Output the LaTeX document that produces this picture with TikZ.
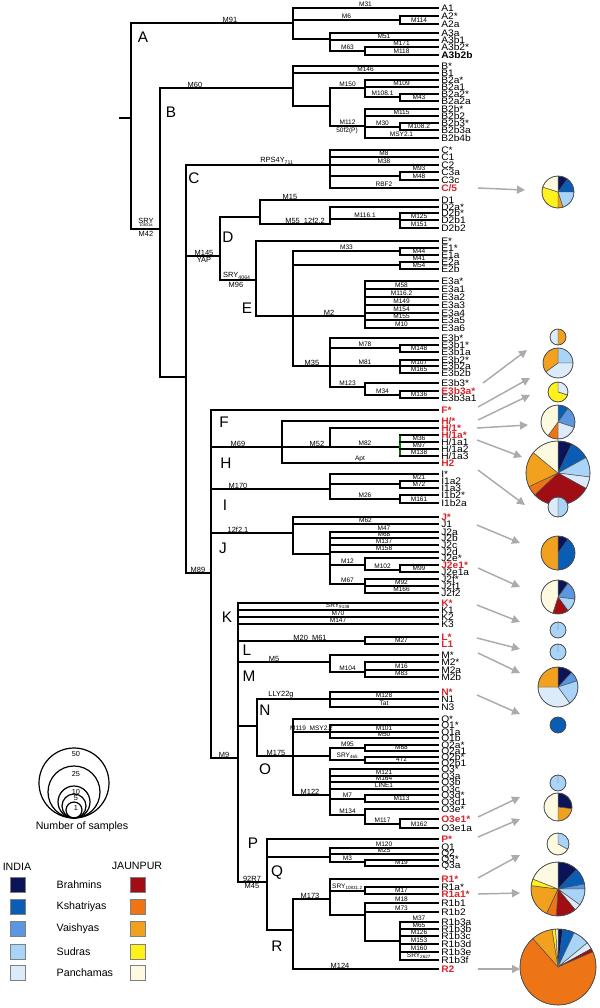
\documentclass[tikz,border=0pt]{standalone}
\usepackage{fontspec}
\setmainfont{Liberation Sans}
\newfontfamily\tipfont[FakeStretch=1.08]{Liberation Sans}
\usetikzlibrary{arrows.meta}
\definecolor{inB}{HTML}{0B1457}
\definecolor{inK}{HTML}{0A5DB5}
\definecolor{inV}{HTML}{5B97E0}
\definecolor{inS}{HTML}{A9D3F7}
\definecolor{inP}{HTML}{DCEBF9}
\definecolor{jaB}{HTML}{A00D14}
\definecolor{jaK}{HTML}{EE7516}
\definecolor{jaV}{HTML}{F2A11F}
\definecolor{jaS}{HTML}{FFF21C}
\definecolor{jaP}{HTML}{FEFAE0}
\definecolor{redl}{HTML}{D9242B}
\definecolor{arr}{HTML}{ABABAB}
\newcommand{\Vl}[4][]{\draw[tr,#1] (#2,#3) -- (#2,#4);}
\newcommand{\Sg}[3]{\draw[tr] (#1,#3) -- (#2,#3);}
\newcommand{\Sgl}[4]{\draw[tr] (#1,#3) -- (#2,#3) node[mut,pos=0.5] {#4};}
\newcommand{\Sglx}[5]{\draw[tr] (#1,#3) -- (#2,#3); \node[mutM] at (#4,#3) {#5};}
\newcommand{\mypie}[4]{%
  \gdef\pa{-90}%
  \foreach \cc/\ff in {#4}{%
    \pgfmathsetmacro\pb{\pa+360*\ff}%
    \filldraw[fill=\cc,draw=black!70,line width=0.35pt] (#1,#2) -- ++(\pa:#3) arc[start angle=\pa,end angle=\pb,radius=#3] -- cycle;%
    \global\let\pa\pb
  }%
  \draw[black!70,line width=0.45pt] (#1,#2) circle[radius=#3];%
}
\begin{document}
\begin{tikzpicture}[x=0.75pt,y=-0.75pt,
  tr/.style={line width=1.05pt,line cap=rect},
  mut/.style={anchor=south,inner sep=0.3pt,font=\fontsize{4.9}{4.9}\selectfont},
  mutM/.style={anchor=south,inner sep=0.4pt,font=\fontsize{5.6}{5.6}\selectfont},
  mutb/.style={anchor=north,inner sep=0.4pt,font=\fontsize{5.6}{5.6}\selectfont},
  tipl/.style={anchor=west,inner sep=0pt,font=\tipfont\fontsize{7.1}{7.1}\selectfont},
  redt/.style={tipl,text=redl,font=\tipfont\fontsize{7.1}{7.1}\bfseries\selectfont},
  clade/.style={font=\fontsize{11.5}{12}\selectfont},
  garr/.style={draw=arr,line width=1.1pt,-{Triangle[length=6pt,width=6pt]}},
  leg/.style={font=\fontsize{8}{9}\selectfont}]
\useasboundingbox (0,0) rectangle (600,1008);
% ---------------- backbone ----------------
\Sg{120}{131}{118}
\Vl{131}{23}{229}
\Sglx{131}{293}{23}{230}{M91}
\node[clade] (lA) at (143,37) {A};
\Sg{131}{160}{229}
\node[mutM] (sry1) at (146,224) {SRY};
\node[font=\fontsize{3}{3}\selectfont,inner sep=0pt] (sry1b) at (146,225.5) {10831a};
\node[mutb] (m42) at (146,230) {M42};
\Vl{160}{88}{377}
\Sglx{160}{293}{88}{195}{M60}
\node[clade] (lB) at (171,112) {B};
\Sg{160}{186}{377}
\Vl{186}{165}{573}
\Sglx{186}{330}{165}{277}{RPS4Y\textsubscript{711}}
\node[clade] (lC) at (194,178) {C};
\Sg{186}{220}{256}
\node[mutM] (m145) at (204,256) {M145};
\node[mutb] (yap) at (204,257) {YAP};
\Vl{220}{217}{280}
\Sg{220}{260}{217}
\node[clade] (lD) at (228,237) {D};
\Sg{220}{256}{280}
\node[mutM] (sry4064) at (237,280) {SRY\textsubscript{4064}};
\node[mutb] (m96) at (236,281) {M96};
% ---------------- A ----------------
\Vl{293}{8}{39}
\Sgl{293}{438}{8}{M31}
\Sgl{293}{400}{20}{M6}
\Vl{400}{16}{24}
\Sg{400}{438}{16}
\Sgl{400}{438}{24}{M114}
\Sg{293}{330}{39}
\Vl{330}{33}{51}
\Sg{330}{438}{33}
\Sgl{330}{438}{40}{M51}
\Sgl{330}{365}{51}{M63}
\Vl{365}{47}{55}
\Sgl{365}{438}{47}{M171}
\Sgl{365}{438}{55}{M118}
% ---------------- B ----------------
\Vl{293}{66}{106}
\Sg{293}{438}{66}
\Sgl{293}{438}{73}{M146}
\Sg{293}{330}{106}
\Vl{330}{88}{126}
\Sgl{330}{365}{88}{M150}
\Vl{365}{80}{97}
\Sg{365}{438}{80}
\Sgl{365}{438}{87}{M109}
\Sgl{365}{400}{97}{M108.1}
\Vl{400}{94}{101}
\Sg{400}{438}{94}
\Sgl{400}{438}{101}{M43}
\Sgl{330}{365}{126}{M112}
\node[mutb,font=\fontsize{4.9}{4.9}\selectfont] (p50f2) at (347,127) {50f2(P)};
\Vl{365}{109}{138}
\Sg{365}{438}{109}
\Sgl{365}{438}{116}{M115}
\Sgl{365}{400}{127}{M30}
\Vl{400}{123}{130}
\Sg{400}{438}{123}
\Sgl{400}{438}{130}{M108.2}
\Sgl{365}{438}{138}{MSY2.1}
% ---------------- C ----------------
\Vl{330}{150}{188}
\Sg{330}{438}{150}
\Sgl{330}{438}{157}{M8}
\Sgl{330}{438}{165}{M38}
\Sg{330}{400}{176}
\Vl{400}{172}{180}
\Sgl{400}{438}{172}{M93}
\Sgl{400}{438}{180}{M48}
\Sgl{330}{438}{188}{RBF2}
% ---------------- D ----------------
\Vl{260}{200}{224}
\Sglx{260}{438}{200}{290}{M15}
\Sglx{260}{330}{224}{305}{M55\ \ 12f2.2}
\Vl{330}{207}{224}
\Sg{330}{438}{207}
\Sgl{330}{400}{219}{M116.1}
\Vl{400}{213}{228}
\Sg{400}{438}{213}
\Sgl{400}{438}{220}{M125}
\Sgl{400}{438}{228}{M151}
% ---------------- E ----------------
\Vl{256}{241}{316}
\Sg{256}{438}{241}
\node[clade] (lE) at (247,308) {E};
\Sg{256}{293}{316}
\Vl{293}{251}{366}
\Sgl{293}{400}{251}{M33}
\Vl{400}{248}{255}
\Sg{400}{438}{248}
\Sgl{400}{438}{255}{M44}
\Sg{293}{400}{265}
\Vl{400}{262}{269}
\Sgl{400}{438}{262}{M41}
\Sgl{400}{438}{269}{M54}
\Sglx{293}{365}{316}{329}{M2}
\Vl{365}{281}{328}
\Sg{365}{438}{281}
\Sgl{365}{438}{289}{M58}
\Sgl{365}{438}{297}{M116.2}
\Sgl{365}{438}{305}{M149}
\Sgl{365}{438}{313}{M154}
\Sgl{365}{438}{320}{M155}
\Sgl{365}{438}{328}{M10}
\Sglx{293}{330}{366}{312}{M35}
\Vl{330}{338}{387}
\Sg{330}{438}{338}
\Sgl{330}{400}{348}{M78}
\Vl{400}{345}{352}
\Sg{400}{438}{345}
\Sgl{400}{438}{352}{M148}
\Sgl{330}{400}{366}{M81}
\Vl{400}{360}{373}
\Sg{400}{438}{360}
\Sgl{400}{438}{366}{M107}
\Sgl{400}{438}{373}{M165}
\Sgl{330}{365}{387}{M123}
\Vl{365}{383}{395}
\Sg{365}{438}{383}
\Sgl{365}{400}{395}{M34}
\Vl{400}{391}{398}
\Sg{400}{438}{391}
\Sgl{400}{438}{398}{M136}
% ---------------- F..J ----------------
\Sg{186}{211}{573}
\node[mutM] (m89) at (198,573) {M89};
\Vl{211}{410}{758}
\Sg{211}{438}{410}
\node[clade] (lF) at (224,422) {F};
\Sglx{211}{282}{447}{238}{M69}
\node[clade] (lH) at (226,463) {H};
\Vl{282}{421}{463}
\Sg{282}{438}{421}
\Sgl{282}{438}{463}{Apt}
\Sglx{282}{330}{447}{317}{M52}
\Vl{330}{428}{447}
\Sg{330}{438}{428}
\Sgl{330}{400}{447}{M82}
\Vl[draw=green!45!black]{400}{435}{456}
\Sg{400}{438}{435}
\Sgl{400}{438}{442}{M36}
\Sgl{400}{438}{449}{M97}
\Sgl{400}{438}{456}{M138}
\Sglx{211}{330}{489}{238}{M170}
\node[clade] (lI) at (225,505) {I};
\Vl{330}{474}{499}
\Sg{330}{438}{474}
\Sg{330}{400}{484}
\Vl{400}{481}{488}
\Sgl{400}{438}{481}{M21}
\Sgl{400}{438}{488}{M72}
\Sgl{330}{400}{499}{M26}
\Vl{400}{495}{503}
\Sg{400}{438}{495}
\Sgl{400}{438}{503}{M161}
\Sglx{211}{293}{533}{238}{12f2.1}
\node[clade] (lJ) at (223,548) {J};
\Vl{293}{517}{554}
\Sg{293}{438}{517}
\Sgl{293}{438}{524}{M62}
\Sg{293}{330}{554}
\Vl{330}{532}{584}
\Sgl{330}{438}{532}{M47}
\Sgl{330}{438}{538}{M68}
\Sgl{330}{438}{545}{M137}
\Sgl{330}{438}{552}{M158}
\Sgl{330}{365}{565}{M12}
\Vl{365}{558}{570}
\Sg{365}{438}{558}
\Sgl{365}{400}{570}{M102}
\Vl{400}{565}{572}
\Sg{400}{438}{565}
\Sgl{400}{438}{572}{M99}
\Sgl{330}{365}{584}{M67}
\Vl{365}{579}{593}
\Sg{365}{438}{579}
\Sgl{365}{438}{586}{M92}
\Sgl{365}{438}{593}{M166}
% ---------------- K..R ----------------
\Sg{211}{238}{758}
\node[mutM] (m9) at (224,758) {M9};
\Vl{238}{603}{882}
\node[clade] (lK) at (227,617) {K};
\Sg{238}{438}{603}
\Sgl{238}{438}{610}{SRY\textsubscript{9138}}
\Sgl{238}{438}{617}{M70}
\Sgl{238}{438}{624}{M147}
\Sglx{238}{365}{641}{310}{M20\ \ M61}
\node[clade] (lL) at (247,650) {L};
\Vl{365}{637}{644}
\Sg{365}{438}{637}
\Sgl{365}{438}{644}{M27}
\Sglx{238}{330}{662}{274}{M5}
\node[clade] (lM) at (249,676) {M};
\Vl{330}{655}{672}
\Sg{330}{438}{655}
\Sgl{330}{365}{672}{M104}
\Vl{365}{662}{677}
\Sg{365}{438}{662}
\Sgl{365}{438}{670}{M16}
\Sgl{365}{438}{677}{M83}
\Sg{238}{257}{726}
\Vl{257}{699}{756}
\Sglx{257}{330}{699}{281}{LLY22g}
\node[clade] (lN) at (265,710) {N};
\Vl{330}{692}{707}
\Sg{330}{438}{692}
\Sgl{330}{438}{699}{M128}
\Sgl{330}{438}{707}{Tat}
\Sglx{257}{293}{756}{276}{M175}
\node[clade] (lO) at (265,769) {O};
\Vl{293}{719}{795}
\Sg{293}{438}{719}
\Sgl{293}{330}{732}{M119\ \ MSY2.2}
\Vl{330}{725}{738}
\Sg{330}{438}{725}
\Sgl{330}{438}{732}{M101}
\Sgl{330}{438}{738}{M50}
\Sg{293}{330}{756}
\Vl{330}{748}{760}
\Sgl{330}{365}{748}{M95}
\Vl{365}{745}{751}
\Sg{365}{438}{745}
\Sgl{365}{438}{751}{M88}
\Sgl{330}{365}{760}{SRY\textsubscript{465}}
\Vl{365}{757}{763}
\Sg{365}{438}{757}
\Sgl{365}{438}{763}{47z}
\Sglx{293}{330}{795}{310}{M122}
\Vl{330}{769}{815}
\Sg{330}{438}{769}
\Sgl{330}{438}{776}{M121}
\Sgl{330}{438}{782}{M164}
\Sgl{330}{438}{789}{LINE1}
\Sgl{330}{365}{799}{M7}
\Vl{365}{795}{802}
\Sg{365}{438}{795}
\Sgl{365}{438}{802}{M113}
\Sgl{330}{365}{815}{M134}
\Vl{365}{809}{824}
\Sg{365}{438}{809}
\Sgl{365}{400}{824}{M117}
\Vl{400}{819}{828}
\Sg{400}{438}{819}
\Sgl{400}{438}{828}{M162}
\Sg{238}{267}{882}
\node[mutM] (r7) at (252,882) {92R7};
\node[mutb] (m45) at (252,883) {M45};
\node[clade] (lP) at (253,843) {P};
\node[clade] (lQ) at (277,873) {Q};
\node[clade] (lR) at (277,946) {R};
\Vl{267}{839}{930}
\Sg{267}{438}{839}
\Sg{267}{330}{857}
\Vl{330}{848}{862}
\Sgl{330}{438}{848}{M120}
\Sgl{330}{438}{854}{M25}
\Sgl{330}{365}{862}{M3}
\Vl{365}{860}{866}
\Sg{365}{438}{860}
\Sgl{365}{438}{866}{M19}
\Sg{267}{293}{930}
\Vl{293}{899}{969}
\Sglx{293}{330}{899}{310}{M173}
\Vl{330}{879}{915}
\Sg{330}{438}{879}
\Sgl{330}{365}{891}{SRY\textsubscript{10831.2}}
\Vl{365}{887}{894}
\Sg{365}{438}{887}
\Sgl{365}{438}{894}{M17}
\Sg{330}{365}{915}
\Vl{365}{903}{941}
\Sgl{365}{438}{903}{M18}
\Sgl{365}{438}{912}{M73}
\Sg{365}{400}{941}
\Vl{400}{922}{960}
\Sgl{400}{438}{922}{M37}
\Sgl{400}{438}{929}{M65}
\Sgl{400}{438}{936}{M126}
\Sgl{400}{438}{944}{M153}
\Sgl{400}{438}{952}{M160}
\Sgl{400}{438}{960}{SRY\textsubscript{2627}}
\Sglx{293}{438}{969}{340}{M124}
% ---------------- tip labels ----------------
\foreach \yy/\tt [count=\i] in {8/A1,16/A2*,24/A2a,33/A3a,40/A3b1,47/A3b2*,
  66/B*,73/B1,80/B2a*,87/B2a1,94/B2a2*,101/B2a2a,109/B2b*,116/B2b2,123/B2b3*,130/B2b3a,138/B2b4b,
  150/C*,157/C1,165/C2,172/C3a,180/C3c,
  200/D1,207/D2a*,213/D2b*,220/D2b1,228/D2b2,
  241/E*,248/E1*,255/E1a,262/E2a,269/E2b,
  281/E3a*,289/E3a1,297/E3a2,305/E3a3,313/E3a4,320/E3a5,328/E3a6,
  338/E3b*,345/E3b1*,352/E3b1a,360/E3b2*,366/E3b2a,373/E3b2b,383/E3b3*,398/E3b3a1,
  442/{H/1a1},449/{H/1a2},456/{H/1a3},
  474/I*,481/I1a2,488/I1a3,495/I1b2*,503/I1b2a,
  524/J1,532/J2a,538/J2b,545/J2c,552/J2d,558/J2e*,572/J2e1a,579/J2f*,586/J2f1,593/J2f2,
  610/K1,617/K2,624/K3,
  655/M*,662/M2*,670/M2a,677/M2b,
  699/N1,707/N3,
  719/O*,725/O1*,732/O1a,738/O1b,745/O2a*,751/O2a1,757/O2b*,763/O2b1,769/O3*,776/O3a,782/O3b,789/O3c,795/O3d*,802/O3d1,809/O3e*,828/O3e1a,
  848/Q1,854/Q2,860/Q3*,866/Q3a,
  887/R1a*,903/R1b1,912/R1b2,922/R1b3a,929/R1b3b,936/R1b3c,944/R1b3d,952/R1b3e,960/R1b3f}
  {\node[tipl] (tip\i) at (441,\yy) {\tt};}
\node[tipl,font=\tipfont\fontsize{7.1}{7.1}\bfseries\selectfont] (tA3b2b) at (441,55) {A3b2b};
\node[redt] (tC5) at (441,188) {C/5};
\node[redt] (tE3b3a) at (441,391) {E3b3a*};
\node[redt] (tF) at (441,410) {F*};
\node[redt] (tH) at (441,421) {H/*};
\node[redt] (tH1) at (441,428) {H/1*};
\node[redt] (tH1a) at (441,435) {H/1a*};
\node[redt] (tH2) at (441,463) {H2};
\node[redt] (tJ) at (441,517) {J*};
\node[redt] (tJ2e1) at (441,565) {J2e1*};
\node[redt] (tK) at (441,603) {K*};
\node[redt] (tL) at (441,637) {L*};
\node[redt] (tL1) at (441,644) {L1};
\node[redt] (tN) at (441,692) {N*};
\node[redt] (tO3e1) at (441,819) {O3e1*};
\node[redt] (tP) at (441,839) {P*};
\node[redt] (tR1) at (441,879) {R1*};
\node[redt] (tR1a1) at (441,894) {R1a1*};
\node[redt] (tR2) at (441,969) {R2};
% ---------------- arrows ----------------
\foreach \ax/\ay/\bx/\by [count=\k] in {478/188/525/190, 483/383/527/350, 478/407/530/378, 478/420/530/395,
   477/428/528/425, 477/440/522/457, 478/470/525/505, 477/525/520/543, 478/568/520/587,
   477/605/520/622, 477/638/520/649, 478/653/520/673, 477/695/520/714, 478/817/520/797,
   478/837/520/819, 478/878/520/855, 478/894/520/893, 478/969/520/969}
  {\coordinate (ta\k) at (\ax,\ay); \coordinate (tb\k) at (\bx,\by); \draw[garr] (ta\k) -- (tb\k);}
% ---------------- pies ----------------
\mypie{558}{192}{16}{inB/0.1,inK/0.15,inS/0.2,jaV/0.05,jaS/0.3,jaP/0.2}
\mypie{558}{337}{8}{jaV/0.5,inP/0.5}
\mypie{558}{363}{15}{inS/0.25,inP/0.4,jaV/0.35}
\mypie{558}{392}{10}{inP/0.3,jaS/0.7}
\mypie{558}{422}{17}{inK/0.1,inV/0.2,inP/0.2,jaK/0.1,jaP/0.4}
\mypie{558}{473}{32}{inB/0.07,inK/0.1,inS/0.1,inP/0.06,jaB/0.3,jaK/0.05,jaV/0.18,jaP/0.14}
\mypie{558}{507}{10}{inS/0.5,inP/0.5}
\mypie{558}{553}{17}{inB/0.1,inK/0.4,jaV/0.5}
\mypie{558}{597}{17}{inB/0.1,inV/0.17,inS/0.13,jaB/0.15,jaP/0.45}
\mypie{558}{630}{8}{inS/1}
\mypie{558}{652}{8}{inS/1}
\mypie{558}{687}{20}{inB/0.12,inV/0.08,inS/0.2,inP/0.35,jaV/0.25}
\mypie{558}{725}{8}{inK/1}
\mypie{558}{783}{8}{inS/1}
\mypie{558}{807}{14}{inB/0.27,jaV/0.23,jaP/0.5}
\mypie{558}{844}{11}{inS/0.33,jaP/0.67}
\mypie{558}{889}{27}{inB/0.12,inK/0.1,inV/0.03,inS/0.1,inP/0.04,jaB/0.12,jaK/0.06,jaV/0.2,jaS/0.04,jaP/0.19}
\mypie{558}{967}{38}{inB/0.02,inK/0.05,inS/0.07,inP/0.03,jaB/0.015,jaK/0.7,jaV/0.09,jaS/0.015,jaP/0.01}
% ---------------- legend ----------------
\foreach \r/\lab/\ly [count=\j] in {35/50/754,26/25/774,16/10/792,12/5/798,8/1/808}
  {\draw[line width=0.9pt] (74,818-\r) circle[radius=\r];
   \node[font=\fontsize{5.5}{5.5}\selectfont,inner sep=0pt] (cl\j) at (76,\ly) {\lab};}
\node[leg] (nos) at (82,827) {Number of samples};
\node[leg] (india) at (17,867) {INDIA};
\node[leg] (jaun) at (137,866) {JAUNPUR};
\foreach \c/\d/\n/\yy [count=\m] in {inB/jaB/Brahmins/885,inK/jaK/Kshatriyas/907,inV/jaV/Vaishyas/929,inS/jaS/Sudras/952,inP/jaP/Panchamas/973}
  {\filldraw[fill=\c,draw=gray,line width=0.5pt] (10,\yy-7.5) rectangle (25,\yy+7.5);
   \filldraw[fill=\d,draw=gray,line width=0.5pt] (130,\yy-7.5) rectangle (145,\yy+7.5);
   \node[leg,anchor=west] (cn\m) at (52,\yy) {\n};}
\end{tikzpicture}
\end{document}
